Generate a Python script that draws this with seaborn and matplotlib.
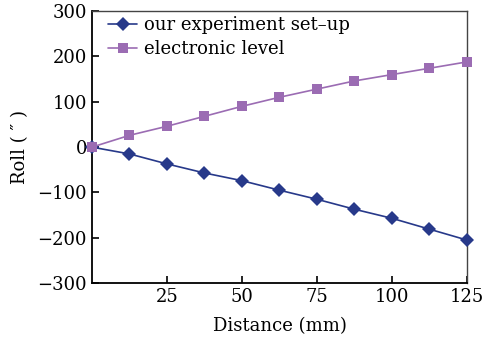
import numpy as np
import pandas as pd
import matplotlib
matplotlib.use("Agg")
import matplotlib.pyplot as plt
import seaborn as sns

# data
distance = [0, 12.5, 25, 37.5, 50, 62.5, 75, 87.5, 100, 112.5, 125]
roll_setup = [0, -15, -37, -57, -74, -95, -115, -137, -157, -181, -205]
roll_level = [0, 26, 46, 68, 90, 110, 128, 146, 160, 174, 188]
series_names = ["our experiment set\u2013up", "electronic level"]

df = pd.DataFrame({
    "Distance": distance * 2,
    "Roll": roll_setup + roll_level,
    "series": [series_names[0]] * len(distance) + [series_names[1]] * len(distance),
})

sns.set_theme(style="ticks")
plt.rcParams["font.family"] = ["DejaVu Serif"]
plt.rcParams["text.color"] = "black"
plt.rcParams["axes.labelcolor"] = "black"

fig = plt.figure(figsize=(4.89, 3.47), dpi=100)
ax = fig.add_axes([0.188, 0.184, 0.767, 0.784])

colors = {series_names[0]: "#27398a", series_names[1]: "#9b6cb3"}
sns.lineplot(data=df, x="Distance", y="Roll", hue="series", style="series",
             markers={series_names[0]: "D", series_names[1]: "s"}, dashes=False,
             palette=colors, markersize=7, linewidth=1.2, markeredgewidth=0,
             ax=ax, clip_on=False, zorder=3)

ax.set_xlim(0, 125)
ax.set_ylim(-300, 300)
ax.set_xticks([25, 50, 75, 100, 125])
ax.set_yticks([-300, -200, -100, 0, 100, 200, 300])
ax.set_yticklabels(["\u2212300", "\u2212200", "\u2212100", "0", "100", "200", "300"])
ax.tick_params(direction="in", length=5, width=1.2, labelsize=13, colors="black")
ax.set_xlabel("Distance (mm)", fontsize=13, labelpad=8, color="black")
ax.set_ylabel("Roll ( \u2033 )", fontsize=13, labelpad=6, color="black")
for s in ["left", "bottom"]:
    ax.spines[s].set_linewidth(1.3)
    ax.spines[s].set_color("black")
for s in ["top", "right"]:
    ax.spines[s].set_linewidth(1.0)
    ax.spines[s].set_color("#444444")

leg = ax.legend(loc="upper left", bbox_to_anchor=(0.0, 1.04), frameon=False,
                fontsize=13, handlelength=1.6, labelspacing=0.3, handletextpad=0.4)
for t in leg.get_texts():
    t.set_color("black")

fig.savefig("out.png", dpi=100)
